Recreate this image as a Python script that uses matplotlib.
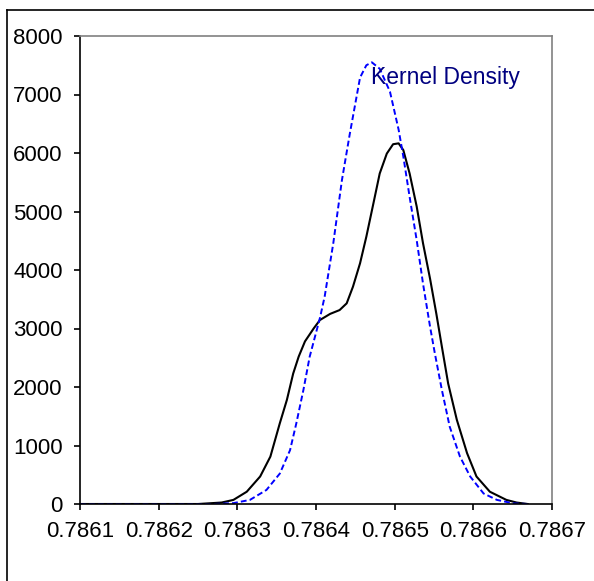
import matplotlib
matplotlib.use("Agg")
import matplotlib.pyplot as plt
from matplotlib.lines import Line2D

plt.rcParams["font.family"] = ["Liberation Sans", "DejaVu Sans"]

# black curve
x_black = [0.7861, 0.78625, 0.78628, 0.786295, 0.786312, 0.786329, 0.786342, 0.786354,
           0.786363, 0.786371, 0.786378, 0.786386, 0.786397, 0.786405, 0.786418,
           0.786430, 0.786439, 0.786447, 0.786456, 0.786464, 0.786473, 0.786481,
           0.786490, 0.786498, 0.786505, 0.786511, 0.786519, 0.786528, 0.786536,
           0.786545, 0.786553, 0.786560, 0.786568, 0.786579, 0.786592, 0.786604,
           0.786621, 0.786642, 0.786655, 0.786669]
y_black = [0, 0, 25, 70, 210, 470, 810, 1380,
           1780, 2230, 2520, 2780, 3000, 3145, 3250,
           3315, 3430, 3715, 4115, 4570, 5140, 5650,
           5990, 6150, 6165, 6050, 5650, 5085, 4460,
           3850, 3250, 2690, 2060, 1440, 870, 470,
           210, 70, 25, 0]

# kernel density (blue dashed)
x_kde = [0.7861, 0.78627, 0.786295, 0.786316, 0.786337, 0.786354, 0.786367, 0.786375,
         0.786384, 0.786392, 0.786405, 0.786411, 0.786422, 0.786433, 0.786443,
         0.786456, 0.786464, 0.786471, 0.786481, 0.786494, 0.786505, 0.786511,
         0.786519, 0.786528, 0.786536, 0.786545, 0.786551, 0.786560, 0.786570,
         0.786583, 0.786596, 0.786613, 0.786630, 0.786651, 0.786669]
y_kde = [0, 0, 15, 70, 240, 520, 920, 1380,
         1950, 2520, 3180, 3545, 4460, 5540, 6330,
         7290, 7500, 7550, 7440, 7050, 6400, 5940,
         5250, 4510, 3770, 3030, 2580, 1950, 1320,
         810, 470, 180, 70, 10, 0]

xticks = [0.7861, 0.7862, 0.7863, 0.7864, 0.7865, 0.7866, 0.7867]
yticks = [0, 1000, 2000, 3000, 4000, 5000, 6000, 7000, 8000]

fig = plt.figure(figsize=(5.94, 5.81), dpi=100)
ax = fig.add_axes([80 / 594, 1 - 504 / 581, 472 / 594, 468 / 581])

ax.plot(x_black, y_black, color="black", lw=1.5, solid_joinstyle="round")
ax.plot(x_kde, y_kde, color="#0000ff", lw=1.4, ls=(0, (3, 1.6)))
ax.text(0.786470, 7180, "Kernel Density", color="#000080", fontsize=16.5,
        ha="left", va="baseline")

ax.set_xlim(0.7861, 0.7867)
ax.set_ylim(0, 8000)
ax.set_xticks(xticks)
ax.set_xticklabels([f"{v:.4f}" for v in xticks])
ax.set_yticks(yticks)
ax.tick_params(direction="out", length=4.5, width=1.2, labelsize=16, pad=8, color="black")

for s in ["top", "right"]:
    ax.spines[s].set_color("#808080")
    ax.spines[s].set_linewidth(1.2)
for s in ["left", "bottom"]:
    ax.spines[s].set_color("black")
    ax.spines[s].set_linewidth(1.2)

# outer frame (only left and top edges fall inside the picture)
fig.add_artist(Line2D([7 / 594, 7 / 594], [0, 1 - 10 / 581], color="black", lw=1.2,
                      transform=fig.transFigure))
fig.add_artist(Line2D([7 / 594, 1], [1 - 10 / 581, 1 - 10 / 581], color="black", lw=1.2,
                      transform=fig.transFigure))

fig.savefig("out.png", dpi=100)
